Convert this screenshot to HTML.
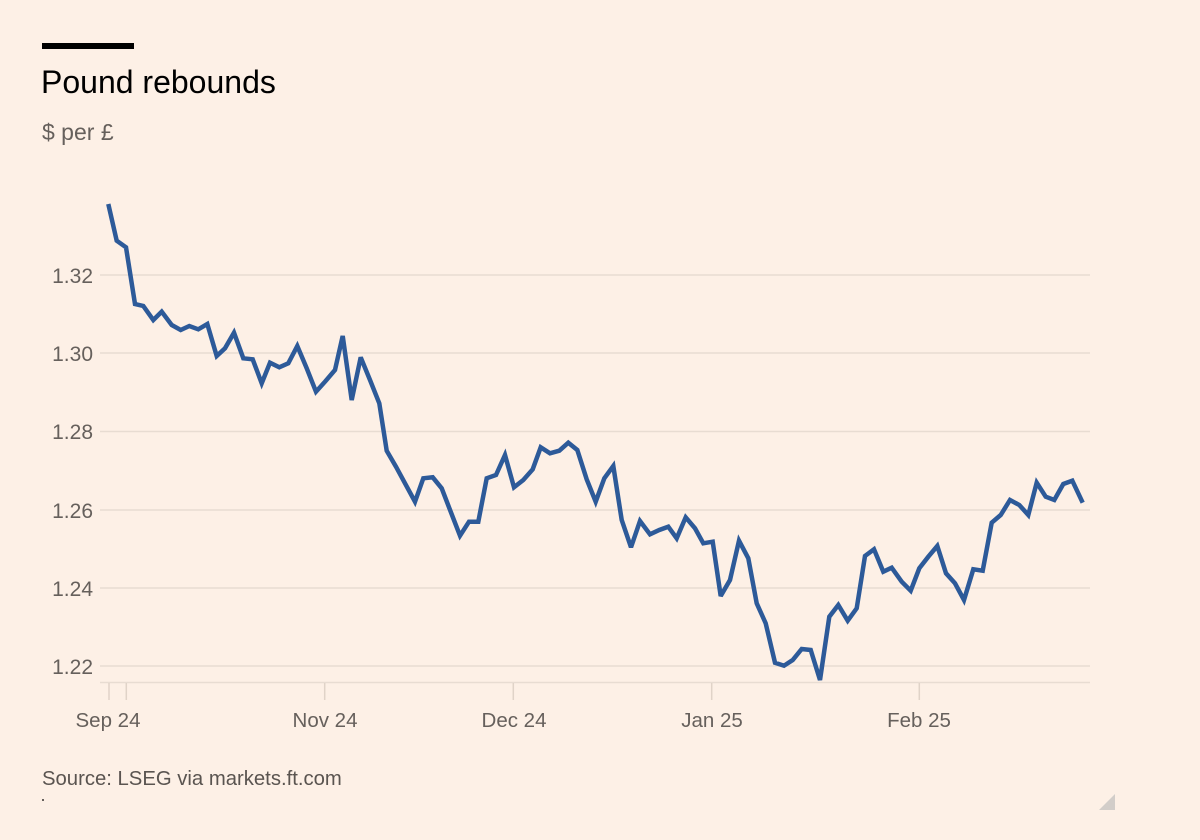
<!DOCTYPE html>
<html>
<head>
<meta charset="utf-8">
<style>
  html, body { margin: 0; padding: 0; }
  body { width: 1200px; height: 840px; background: #fdf0e6; overflow: hidden; }
  svg { display: block; }
  .t { font-family: "Liberation Sans", sans-serif; }
</style>
</head>
<body>
<svg width="1200" height="840" viewBox="0 0 1200 840" xmlns="http://www.w3.org/2000/svg">
  <rect x="0" y="0" width="1200" height="840" fill="#fdf0e6"/>
  <!-- top bar -->
  <rect x="42" y="43" width="92" height="6" fill="#000"/>
  <!-- title -->
  <text class="t" x="41" y="93" font-size="32" fill="#000">Pound rebounds</text>
  <text class="t" x="42" y="140" font-size="23" fill="#66605c">$ per £</text>

  <!-- gridlines -->
  <g stroke="#e8dcd2" stroke-width="1.5">
    <line x1="100" y1="275" x2="1090" y2="275"/>
    <line x1="100" y1="353" x2="1090" y2="353"/>
    <line x1="100" y1="431.5" x2="1090" y2="431.5"/>
    <line x1="100" y1="510" x2="1090" y2="510"/>
    <line x1="100" y1="588" x2="1090" y2="588"/>
    <line x1="100" y1="666" x2="1090" y2="666"/>
  </g>
  <line x1="100" y1="682.5" x2="1090" y2="682.5" stroke="#e8dcd2" stroke-width="1.5"/>

  <!-- y labels -->
  <g class="t" font-size="21" fill="#66605c" text-anchor="end">
    <text x="93" y="283">1.32</text>
    <text x="93" y="361">1.30</text>
    <text x="93" y="439">1.28</text>
    <text x="93" y="518">1.26</text>
    <text x="93" y="596">1.24</text>
    <text x="93" y="674">1.22</text>
  </g>

  <!-- x ticks -->
  <g stroke="#e0d3c8" stroke-width="1.5">
    <line x1="109" y1="683" x2="109" y2="700"/>
    <line x1="126.3" y1="683" x2="126.3" y2="700"/>
    <line x1="324.7" y1="683" x2="324.7" y2="700"/>
    <line x1="513.3" y1="683" x2="513.3" y2="700"/>
    <line x1="711.7" y1="683" x2="711.7" y2="700"/>
    <line x1="919.3" y1="683" x2="919.3" y2="700"/>
  </g>
  <g class="t" font-size="20.5" fill="#66605c" text-anchor="middle">
    <text x="108" y="727">Sep 24</text>
    <text x="325" y="727">Nov 24</text>
    <text x="514" y="727">Dec 24</text>
    <text x="712" y="727">Jan 25</text>
    <text x="919" y="727">Feb 25</text>
  </g>

  <!-- series -->
  <polyline fill="none" stroke="#2d5a99" stroke-width="4.5" stroke-linejoin="miter" stroke-miterlimit="3" stroke-linecap="butt"
    points="108.3,204 116.7,240.7 126,247.3 135,304 143.3,306 153.3,320 161.7,311.7 171.7,325 180.7,330 189.3,326 198.3,329.3 207.3,324 216.7,356 225,348.3 234,332.7 243.3,358.3 252.7,359.3 261.7,383.3 270,362.7 279.3,367.3 288.3,363.3 297.3,346 306.7,368.3 316,391.7 325,381.7 335,370 342.7,336 351.7,400 360.7,357.3 370,380 379.3,403.3 386.7,450.7 396,466.7 405,483.3 415,501.7 423.3,478.3 432.7,477.3 441.7,488.3 450.7,511.7 460,535.7 469,521.7 478.3,521.7 486.7,478.3 496,475 505,455 514,487.3 523.3,480 532.7,469.3 540.7,447.3 550,453.3 559.3,450.7 568.3,442.7 577.3,450 586.7,479.3 595.7,501.7 604.3,478.3 613.3,466 621.7,520 631,547.3 640,521 650,534.3 659.3,530 668.3,526.7 676.7,538.3 685.7,517.3 695,528.3 703.3,543.3 712.7,541.7 720.7,596 730,580 739,540.7 748.3,558.3 756.7,603.3 765.7,623.3 775,662.7 784,665.7 792.7,660 801.7,649 810.7,650 820,680 829.3,616.7 838.3,605 847.7,620.7 856.7,608.3 865,556 874,549.3 883.3,571.7 891.7,567.7 901.7,581.7 910.7,590.7 919.3,568.3 928.3,556.7 937.3,546 946,573.3 955,583.3 964,600 973.3,569.3 982.7,570.7 991.7,522.7 1000.7,515 1010,500 1019.3,505 1028.3,515 1036.7,482.7 1045.7,496.7 1054.3,500 1063.3,484 1072.3,480.7 1082.7,502.7"/>

  <!-- source -->
  <text class="t" x="42" y="785" font-size="20.3" fill="#5a5450">Source: LSEG via markets.ft.com</text>
  <rect x="42" y="799" width="2" height="2" fill="#66605c"/>

  <!-- resize corner -->
  <polygon points="1115,794 1115,810 1099,810" fill="#d2cdc9"/>
</svg>
</body>
</html>
